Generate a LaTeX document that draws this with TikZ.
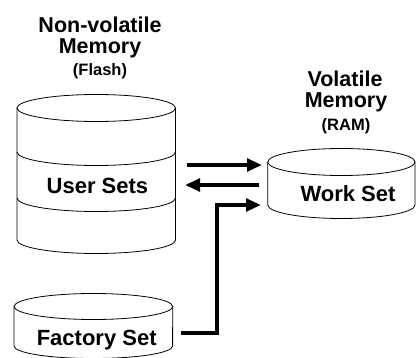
\documentclass[tikz,border=0pt]{standalone}
\usepackage{fontspec}
\setmainfont{Liberation Sans}
\usetikzlibrary{arrows.meta}
\begin{document}
\begin{tikzpicture}[x=1pt,y=1pt,
  cyl/.style={draw=black,line width=0.8pt},
  lbl/.style={font=\bfseries\fontsize{22}{24}\selectfont,anchor=base,inner sep=0pt},
  ttl/.style={font=\bfseries\fontsize{21.5}{24}\selectfont,anchor=base,inner sep=0pt},
  sub/.style={font=\bfseries\fontsize{16.5}{18}\selectfont,anchor=base,inner sep=0pt},
  flow/.style={line width=4.5pt,line join=miter,-{Triangle[length=15pt,width=12.5pt]}}]
\useasboundingbox (0,0) rectangle (417,-358);
% Non-volatile memory cylinder
\draw[cyl] (96.25,-108) ellipse (79.25 and 13.5);
\draw[cyl] (17,-108) -- (17,-240) arc (180:360:79.25 and 13.5) -- (175.5,-108);
\draw[cyl] (17,-152) arc (180:360:79.25 and 13.5);
\draw[cyl] (17,-198) arc (180:360:79.25 and 13.5);
% Volatile memory cylinder
\draw[cyl] (341.4,-162) ellipse (73.6 and 13.5);
\draw[cyl] (267.8,-162) -- (267.8,-205) arc (180:360:73.6 and 13.5) -- (415,-162);
% Factory cylinder
\draw[cyl] (93.4,-306.5) ellipse (79.3 and 13);
\draw[cyl] (14,-306.5) -- (14,-346) arc (180:360:79.3 and 12.5) -- (172.7,-306.5);
% titles
\node[ttl] (nv1) at (100,-32.5) {Non-volatile};
\node[ttl] (nv2) at (100,-54) {Memory};
\node[sub] (nv3) at (100,-75.5) {(Flash)};
\node[ttl] (v1) at (345,-86.5) {Volatile};
\node[ttl] (v2) at (346,-108) {Memory};
\node[sub] (v3) at (346,-131) {(RAM)};
% labels
\node[lbl] (us) at (97.5,-193.5) {User Sets};
\node[lbl] (ws) at (348,-201.5) {Work Set};
\node[lbl] (fs) at (96.7,-345) {Factory Set};
% connector end points
\coordinate (nvOut) at (187,-165);
\coordinate (wsIn) at (262,-165);
\coordinate (wsOut) at (259,-185);
\coordinate (nvIn) at (185,-185);
\coordinate (fsOut) at (181,-333);
\coordinate (bend) at (217,-205);
\coordinate (wsIn2) at (261,-205);
\draw[flow] (nvOut) -- (wsIn);
\draw[flow] (wsOut) -- (nvIn);
\draw[flow] (fsOut) -| (bend) -- (wsIn2);
\end{tikzpicture}
\end{document}
